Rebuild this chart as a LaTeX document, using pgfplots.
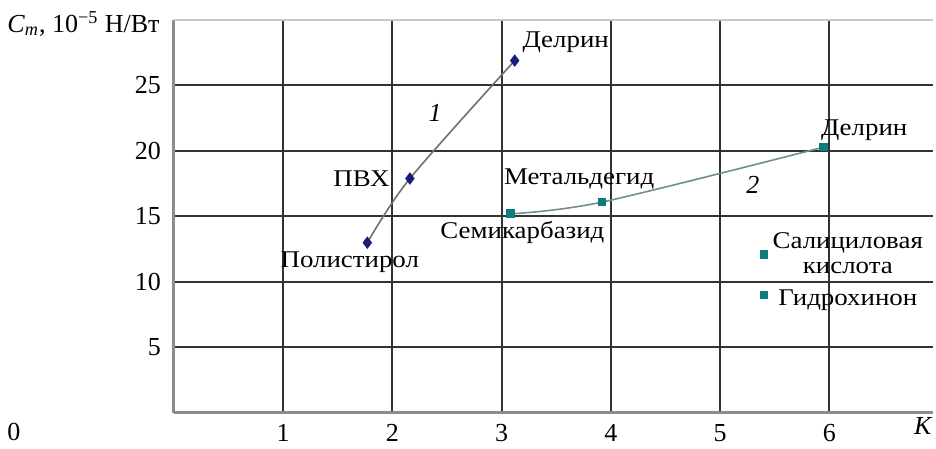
\documentclass[border=0pt]{standalone}
\usepackage{fontspec}
\setmainfont{Liberation Serif}
\newfontfamily\lblfont[FakeStretch=1.12]{Liberation Serif}
\usepackage{pgfplots}
\pgfplotsset{compat=1.18}
\definecolor{gridc}{HTML}{333333}
\definecolor{axc}{HTML}{8C8C8C}
\definecolor{topc}{HTML}{C8C8C8}
\definecolor{navyc}{HTML}{1B1B78}
\definecolor{tealc}{HTML}{0E7C7B}
\definecolor{lineone}{HTML}{707070}
\definecolor{linetwo}{HTML}{6E8F8E}
\begin{document}
\begin{tikzpicture}
\begin{axis}[
  scale only axis, width=379.5pt, height=196.5pt,
  xmin=0, xmax=6.95, ymin=0, ymax=30,
  xtick={1,...,6}, ytick={5,10,...,25},
  grid=major, grid style={gridc, line width=1pt},
  major tick length=0pt,
  axis line style={draw=none},
  clip=false,
  tick label style={font=\fontsize{13}{15}\selectfont},
  /pgf/number format/assume math mode=true,
  xticklabel style={yshift=-2pt},
  yticklabel style={xshift=-3pt},
  xlabel={\textit{K}},
  xlabel style={at={(rel axis cs:1,0)}, anchor=north east, yshift=-2pt,
    inner sep=0pt, font=\fontsize{13}{15}\selectfont},
]
% axis frame
\draw[axc, line width=1.5pt] (rel axis cs:0,0) -- (rel axis cs:0,1);
\draw[axc, line width=1.5pt] (rel axis cs:0,0) -- (rel axis cs:1,0);
\draw[topc, line width=1pt] (rel axis cs:0,1) -- (rel axis cs:1,1);

% curve 1
\addplot[lineone, line width=0.8pt, smooth, mark=diamond*, mark size=2.5pt,
  mark options={draw=navyc, fill=navyc}] coordinates {
  (1.77,13.0) (2.16,17.9) (3.12,26.9)
};
% curve 2
\addplot[linetwo, line width=0.8pt, smooth, mark=square*, mark size=1.8pt,
  mark options={draw=tealc, fill=tealc}] coordinates {
  (3.08,15.2) (3.92,16.1) (5.95,20.3)
};
% single points
\addplot[only marks, mark=square*, mark size=1.8pt, draw=tealc, fill=tealc] coordinates {
  (5.40,12.1) (5.40,9.0)
};

% point labels
\begin{scope}[font=\lblfont\fontsize{12}{12.5}\selectfont]
\node[anchor=west, inner sep=1pt] at (axis cs:3.17,28.3) {Делрин};
\node[anchor=east, inner sep=1pt] at (axis cs:1.995,17.9) {ПВХ};
\node at (axis cs:1.61,11.5) {Полистирол};
\node at (axis cs:3.71,17.9) {Метальдегид};
\node at (axis cs:3.19,13.8) {Семикарбазид};
\node at (axis cs:6.32,21.6) {Делрин};
\node[align=center, inner sep=0pt] at (axis cs:6.17,12.2) {Салициловая\\кислота};
\node at (axis cs:6.17,8.6) {Гидрохинон};
\end{scope}
\node[font=\fontsize{13}{15}\selectfont\itshape] at (axis cs:2.39,22.9) {1};
\node[font=\fontsize{13}{15}\selectfont\itshape] at (axis cs:5.30,17.4) {2};

% axis captions
\node[anchor=east, font=\fontsize{13}{15}\selectfont, inner sep=0pt]
  at ([xshift=-7pt,yshift=-2pt]rel axis cs:0,1)
  {\textit{C}\textsubscript{\textit{m}}, 10\textsuperscript{−5} Н/Вт};
\node[font=\fontsize{13}{15}\selectfont, inner sep=0pt]
  at ([xshift=-80pt,yshift=-9.5pt]rel axis cs:0,0) {0};

% bounding box
\path ([xshift=-87pt,yshift=-15pt]rel axis cs:0,0) -- ([xshift=1.5pt,yshift=10pt]rel axis cs:1,1);
\end{axis}
\end{tikzpicture}
\end{document}
